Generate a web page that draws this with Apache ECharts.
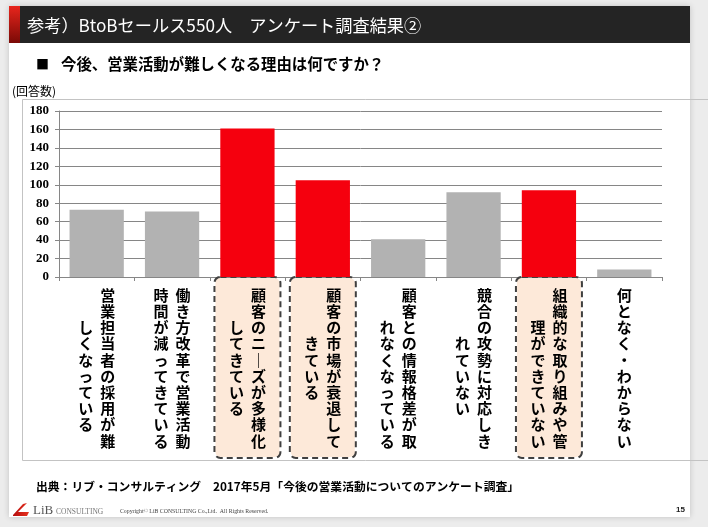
<!DOCTYPE html>
<html><head><meta charset="utf-8">
<script src="https://cdn.jsdelivr.net/npm/echarts@6/dist/echarts.min.js"></script>
<style>html,body{margin:0;padding:0;background:#ececec;}#c{width:708px;height:527px;}</style>
</head><body><div id="c"></div>
<script>
// ---- data ----
const categories = [
  '営業担当者の採用が難しくなっている',
  '働き方改革で営業活動時間が減ってきている',
  '顧客のニーズが多様化してきている',
  '顧客の市場が衰退してきている',
  '顧客との情報格差が取れなくなっている',
  '競合の攻勢に対応しきれていない',
  '組織的な取り組みや管理ができていない',
  '何となく・わからない'
];
const values = [73, 71, 161, 105, 41, 92, 94, 8];
const highlighted = [false, false, true, true, false, false, true, false];
const secondColumnOffset = [2, 0, 2, 3, 2, 3, 2, 0];
const yMin = 0, yMax = 180, yInterval = 20;
const titleText = '参考）BtoBセールス550人　アンケート調査結果②';
const subtitleText = '今後、営業活動が難しくなる理由は何ですか？';
const unitText = '(回答数)';
const sourceText = '出典：リブ・コンサルティング　2017年5月「今後の営業活動についてのアンケート調査」';

// ---- styles ----
const JP = '"Noto Sans CJK JP", sans-serif';
const SERIF = '"Liberation Serif", serif';
const GRAY = '#b2b2b2', RED = '#f5000e', AXIS = '#868686';
const COL_LEN = 10;

function verticalLabel(text, idx) {
  const t = text.replace(/ー/g, '｜');
  const c1 = Array.from(t.slice(0, COL_LEN));
  const c2 = Array.from(t.slice(COL_LEN));
  const off = secondColumnOffset[idx] || 0;
  const rows = [];
  for (let i = 0; i < COL_LEN; i++) {
    const r = c1[i] || '　';
    if (c2.length) {
      const l = c2[i - off] || '　';
      rows.push('{c|' + l + '}{c|' + r + '}');
    } else {
      rows.push('{c|' + r + '}');
    }
  }
  return rows.join('\n');
}

const xData = categories.map((c, i) => highlighted[i] ? {
  value: c,
  textStyle: {
    backgroundColor: '#fde9d9',
    borderColor: '#404040',
    borderWidth: 2,
    borderType: [6, 4],
    borderRadius: 5
  }
} : c);

const chart = echarts.init(document.getElementById('c'), null, {renderer: 'canvas'});
chart.setOption({
  animation: false,
  backgroundColor: 'transparent',
  grid: {left: 59, right: 46, top: 111, bottom: 250, containLabel: false, outerBoundsMode: 'none'},
  xAxis: {
    type: 'category',
    data: xData,
    axisLine: {lineStyle: {color: AXIS, width: 1}},
    axisTick: {show: true, length: 4, lineStyle: {color: AXIS}},
    axisLabel: {
      interval: 0,
      margin: 1,
      padding: [9, 10, 8, 10],
      formatter: (v, i) => verticalLabel(v, i),
      rich: {
        c: {width: 22, align: 'center', fontSize: 15, lineHeight: 16.2, fontWeight: 'bold', color: '#000', fontFamily: JP}
      }
    }
  },
  yAxis: {
    type: 'value',
    min: yMin, max: yMax, interval: yInterval,
    axisLine: {show: true, lineStyle: {color: AXIS}},
    axisTick: {show: true, length: 4, lineStyle: {color: AXIS}},
    splitLine: {lineStyle: {color: AXIS, width: 1}},
    axisLabel: {margin: 10, color: '#000', fontSize: 13, fontWeight: 'bold', fontFamily: SERIF}
  },
  series: [{
    type: 'bar',
    data: values.map((v, i) => ({value: v, itemStyle: {color: highlighted[i] ? RED : GRAY}})),
    barCategoryGap: '28%'
  }],
  graphic: [
    // slide
    {type: 'rect', z: -20, shape: {x: 9, y: 6, width: 681, height: 511}, style: {fill: '#fff', shadowBlur: 6, shadowColor: 'rgba(0,0,0,0.18)'}, silent: true},
    {type: 'rect', z: -19, shape: {x: 9, y: 6, width: 681, height: 37}, style: {fill: '#242424'}},
    {type: 'rect', z: -18, shape: {x: 9, y: 6, width: 11, height: 37}, style: {fill: new echarts.graphic.LinearGradient(0, 0, 0, 1, [{offset: 0, color: '#e8251c'}, {offset: 1, color: '#7a0a06'}])}},
    {type: 'text', z: 5, style: {x: 27, y: 25, text: titleText, fill: '#fff', fontSize: 17.2, fontFamily: JP, verticalAlign: 'middle'}},
    {type: 'text', z: 5, style: {x: 36, y: 64, text: '■', fill: '#000', fontSize: 13, fontFamily: JP, verticalAlign: 'middle'}},
    {type: 'text', z: 5, style: {x: 61, y: 64, text: subtitleText, fill: '#000', fontSize: 15.4, fontWeight: 'bold', fontFamily: JP, verticalAlign: 'middle'}},
    // chart frame
    {type: 'polyline', z: -10, shape: {points: [[720, 99.5], [22.5, 99.5], [22.5, 460.5], [720, 460.5]]}, style: {stroke: '#c3c3c3', lineWidth: 1, fill: null}},
    {type: 'text', z: 5, style: {x: 12, y: 91, text: unitText, fill: '#000', fontSize: 12, fontFamily: JP, verticalAlign: 'middle'}},
    // footer
    {type: 'text', z: 5, style: {x: 36, y: 487, text: sourceText, fill: '#000', fontSize: 11.8, fontWeight: 'bold', fontFamily: JP, verticalAlign: 'middle'}},
    {type: 'polygon', z: 5, shape: {points: [[13, 515], [23, 504], [27, 503], [18, 512], [29, 512], [27, 516], [13, 516]]}, style: {fill: new echarts.graphic.LinearGradient(0, 0, 1, 0, [{offset: 0, color: '#b50d0d'}, {offset: 1, color: '#e8321f'}])}},
    {type: 'text', z: 5, style: {x: 33, y: 511, text: 'LiB', fill: '#555', fontSize: 13, fontFamily: SERIF, verticalAlign: 'middle'}},
    {type: 'text', z: 5, style: {x: 56, y: 512, text: 'CONSULTING', fill: '#777', fontSize: 7.5, fontFamily: SERIF, verticalAlign: 'middle'}},
    {type: 'text', z: 5, style: {x: 120, y: 511, text: 'Copyright© LiB CONSULTING Co.,Ltd.  All Rights Reserved.', fill: '#444', fontSize: 5.8, fontFamily: SERIF, verticalAlign: 'middle'}},
    {type: 'text', z: 5, style: {x: 685, y: 510, text: '15', fill: '#222', fontSize: 8, fontWeight: 'bold', fontFamily: '"Liberation Sans Narrow", sans-serif', align: 'right', verticalAlign: 'middle'}}
  ]
});
</script>
</body></html>
